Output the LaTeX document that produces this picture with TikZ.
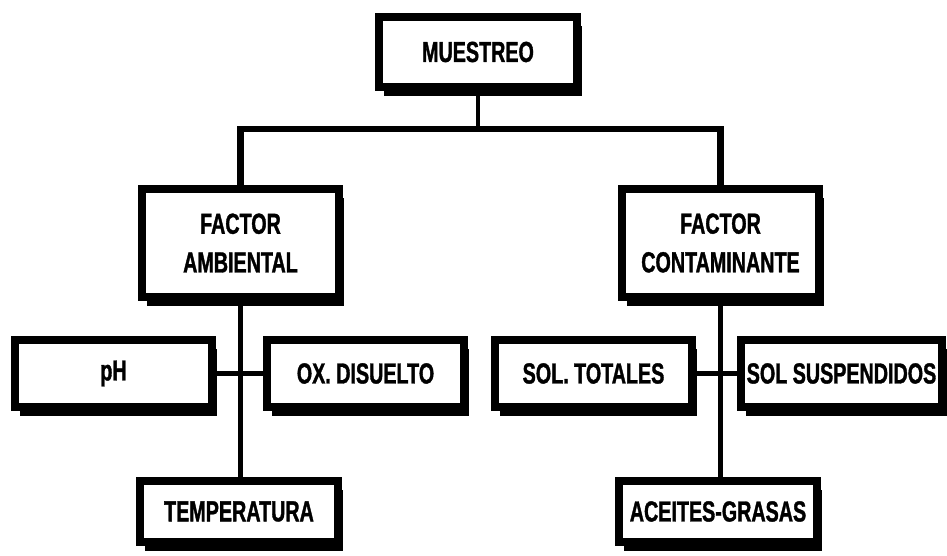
\documentclass[tikz,border=0pt]{standalone}
\usepackage{fontspec}
\newfontfamily\boxfont[FakeStretch=0.68,FakeBold=1.2]{Liberation Sans}
\usetikzlibrary{shadows}

\tikzset{
  caja/.style={draw=black, fill=white, line width=4.5pt, minimum width=3.95cm,
    align=center, font=\boxfont\bfseries\fontsize{16.5}{22}\selectfont,
    drop shadow={shadow xshift=2.8pt, shadow yshift=-5pt, fill=black, opacity=1}},
  linea/.style={line width=2.6pt}
}

\begin{document}
\begin{tikzpicture}
\useasboundingbox (0,0) rectangle (18.94,11.12);

\node[caja, minimum height=1.4cm] (muestreo) at (9.56,10.08) {MUESTREO};

\node[caja, minimum height=2.16cm] (ambiental) at (4.81,6.26) {FACTOR\\AMBIENTAL};
\node[caja, minimum height=2.16cm] (contaminante) at (14.41,6.26) {FACTOR\\CONTAMINANTE};

\node[caja, minimum height=1.34cm] (ph) at (2.27,3.65) {pH};
\node[caja, minimum height=1.34cm] (oxigeno) at (7.31,3.65) {OX. DISUELTO};
\node[caja, minimum height=1.34cm] (totales) at (11.87,3.65) {SOL. TOTALES};
\node[caja, minimum height=1.34cm, minimum width=3.9cm] (suspendidos) at (16.83,3.65) {SOL SUSPENDIDOS};

\node[caja, minimum height=1.22cm] (temperatura) at (4.78,0.89) {TEMPERATURA};
\node[caja, minimum height=1.22cm] (aceites) at (14.36,0.89) {ACEITES-GRASAS};

\coordinate (bus) at (9.56,8.54);

% arbol
\draw[linea] (muestreo.south) -- (bus);
\draw[line width=3.5pt] (ambiental.north) |- (bus) -| (contaminante.north);

\draw[linea] (ambiental.south) -- (ambiental.south |- temperatura.north);
\draw[linea] (ph.east) -- (oxigeno.west);

\draw[linea] (contaminante.south) -- (contaminante.south |- aceites.north);
\draw[linea] (totales.east) -- (suspendidos.west);

\end{tikzpicture}
\end{document}
